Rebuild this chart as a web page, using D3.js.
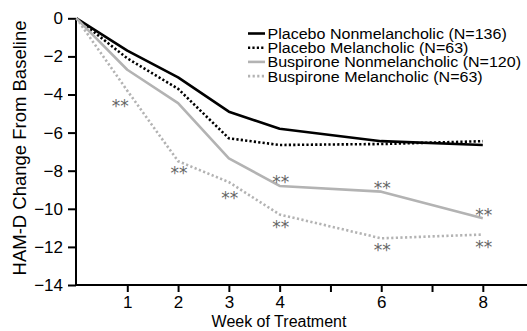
<!DOCTYPE html>
<html><head><meta charset="utf-8">
<script src="https://cdn.jsdelivr.net/npm/d3@7"></script>
<style>
html,body{margin:0;padding:0;background:#fff;}
svg{display:block;font-family:"Liberation Sans",Arial,sans-serif;}
</style></head>
<body>
<svg id="chart" width="527" height="331"></svg>
<script>
const weeks = [0, 1, 2, 3, 4, 6, 8];
const placeboNonmelancholic = [0, -1.7, -3.1, -4.9, -5.8, -6.45, -6.65];
const placeboMelancholic    = [0, -2.1, -3.7, -6.3, -6.65, -6.6, -6.45];
const buspironeNonmelancholic = [0, -2.7, -4.45, -7.35, -8.8, -9.1, -10.5];
const buspironeMelancholic    = [0, -3.8, -7.5, -8.6, -10.3, -11.55, -11.35];
const seriesNames = ["Placebo Nonmelancholic (N=136)", "Placebo Melancholic (N=63)", "Buspirone Nonmelancholic (N=120)", "Buspirone Melancholic (N=63)"];
const xTicks = [1, 2, 3, 4, 5, 6, 7, 8];
const xTickLabels = ["1", "2", "3", "4", "", "6", "", "8"];
const yTicks = [0, -2, -4, -6, -8, -10, -12, -14];
// significance marks (**): weeks per series
const buspNonStars = [4, 6, 8];
const buspMelStars = [1, 2, 3, 4, 6, 8];

const svg = d3.select("#chart");
const x = d3.scaleLinear().domain([0, 8.87]).range([76.5, 527]);
const y = d3.scaleLinear().domain([0, -14]).range([18.3, 285]);

const series = [
  {name: seriesNames[0], vals: placeboNonmelancholic, color: "#000", dash: null, w: 2.6},
  {name: seriesNames[1], vals: placeboMelancholic, color: "#000", dash: "2.2,2.2", w: 2.6},
  {name: seriesNames[2], vals: buspironeNonmelancholic, color: "#b3b3b3", dash: null, w: 2.6},
  {name: seriesNames[3], vals: buspironeMelancholic, color: "#b3b3b3", dash: "2.2,2.4", w: 2.6}
];

// axes
const yAxis = svg.append("g").attr("transform", "translate(76,0)")
  .call(d3.axisLeft(y).tickValues(yTicks).tickSize(8).tickPadding(5).tickFormat(d3.format("d")));
const xAxis = svg.append("g").attr("transform", "translate(0,285)")
  .call(d3.axisBottom(x).tickValues(xTicks).tickSize(7).tickPadding(4).tickFormat((d,i) => xTickLabels[i]));
[yAxis, xAxis].forEach(g => {
  g.select(".domain").attr("stroke", "#000").attr("stroke-width", 2);
  g.selectAll(".tick line").attr("stroke", "#000").attr("stroke-width", 2);
  g.selectAll(".tick text").attr("fill", "#000").attr("font-size", 17).attr("font-family", "Liberation Sans, Arial, sans-serif");
});
yAxis.select(".domain").attr("d", "M-0,18.3V285");
xAxis.select(".domain").attr("d", "M76,0H527");

// axis labels
svg.append("text").attr("x", 279).attr("y", 327).attr("text-anchor", "middle")
  .attr("font-size", 16).text("Week of Treatment");
svg.append("text").attr("transform", "translate(26,148) rotate(-90)").attr("text-anchor", "middle")
  .attr("font-size", 18.5).text("HAM-D Change From Baseline");

// lines
const line = d3.line().x((d,i) => x(weeks[i])).y(d => y(d));
series.forEach(s => {
  svg.append("path").datum(s.vals).attr("d", line)
    .attr("fill", "none").attr("stroke", s.color).attr("stroke-width", s.w)
    .attr("stroke-dasharray", s.dash).attr("stroke-linejoin", "round");
});

// stars
function stars(vals, ws, place) {
  ws.forEach(w => {
    const i = weeks.indexOf(w);
    let cx = x(w), cy = y(vals[i]);
    if (place === "above") cy -= 7;
    else {
      cy += (w === 3 ? 12 : 8.5);
      if (w === 1) { cx -= 8; cy += 3; }
    }
    svg.append("text").attr("x", cx + 1).attr("y", cy + 9.5).attr("text-anchor", "middle")
      .attr("font-size", 17).attr("fill", "#666").attr("font-family", "DejaVu Sans, sans-serif")
      .text("**");
  });
}
stars(buspironeNonmelancholic, buspNonStars, "above");
stars(buspironeMelancholic, buspMelStars, "below");

// legend
const leg = svg.append("g");
series.forEach((s, i) => {
  const ly = 33.5 + i * 14.2;
  leg.append("line").attr("x1", 248).attr("x2", 265).attr("y1", ly).attr("y2", ly)
    .attr("stroke", s.color).attr("stroke-width", s.w).attr("stroke-dasharray", s.dash);
  leg.append("text").attr("transform", `translate(267.5,${ly + 5.4}) scale(1.07,1)`)
    .attr("font-size", 15).attr("fill", "#000")
    .text(s.name);
});
</script>
</body></html>
